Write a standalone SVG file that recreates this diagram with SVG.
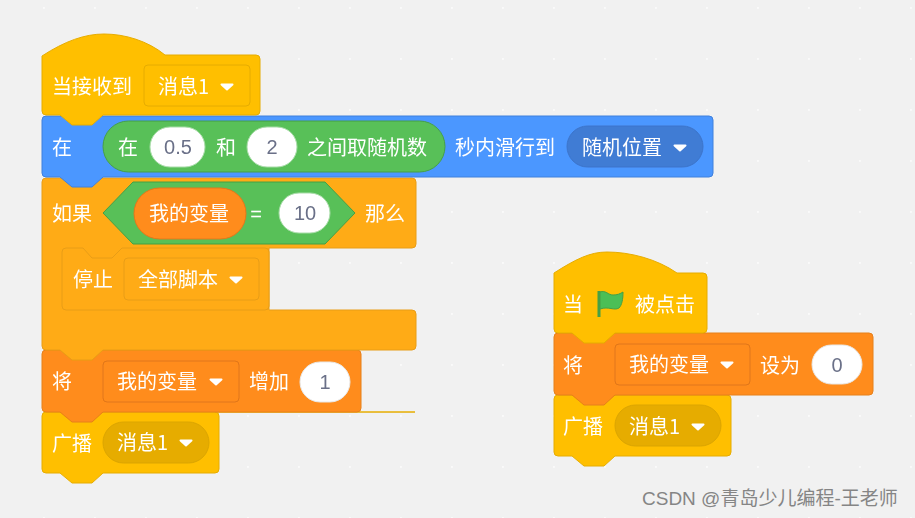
<svg xmlns="http://www.w3.org/2000/svg" width="915" height="518" viewBox="0 0 915 518">
<style>
text{font-family:"Noto Sans CJK SC","Liberation Sans",sans-serif;font-size:20px;fill:#fff}
.n{font-family:"Liberation Sans","Noto Sans CJK SC",sans-serif;fill:#6a7088;text-anchor:middle}
.y{fill:#ffbf00;stroke:#e6ac00}
.b{fill:#4c97ff;stroke:#3f80dc}
.o{fill:#ff8c1a;stroke:#e6801a}
.c{fill:#ffab19;stroke:#e89d17}
.g{fill:#59c059;stroke:#45a045}
.i{fill:#fff;stroke:#e8e8e8}
.dy{fill:#ffbf00;stroke:#e6ac00}
.do{fill:#ff8c1a;stroke:#e0761a}
.dc{fill:#ffab19;stroke:#e89d17}
.py{fill:#e6ac00;stroke:#dba500}
.pb{fill:#3f7bd4;stroke:#3d75cb}
</style>
<defs>
<pattern id="dots" x="43" y="7" width="51" height="51" patternUnits="userSpaceOnUse">
<rect x="0" y="0" width="51" height="51" fill="#f1f1f1"/>
<rect x="-0.1" y="-0.1" width="2" height="2" fill="#fafafa"/>
</pattern>
<path id="arrow" d="M-5.5,-2.5H5.500L0,2.500Z" fill="#fff" stroke="#fff" stroke-width="2" stroke-linejoin="round"/>
<filter id="soft" x="-2%" y="-2%" width="104%" height="104%"><feGaussianBlur stdDeviation="0.45"/></filter>
</defs>
<rect width="915" height="518" fill="url(#dots)"/>
<g filter="url(#soft)">
<g id="stack-left">
<g id="broadcast-left">
<path class="y" d="M46,412H415H215Q219,412 219,416V469Q219,473 215,473H103L92,483H72L60,473H46Q42,473 42,469V416Q42,412 46,412Z"/>
<rect class="py" x="103" y="422" width="106" height="41" rx="20.500"/>
<text x="52" y="451">广播</text><text x="117" y="450">消息1</text>
<use href="#arrow" x="186" y="443"/>
</g>
<g id="change-var">
<path class="o" d="M46,350H357Q361,350 361,354V408Q361,412 357,412H103L92,422H72L60,412H46Q42,412 42,408V354Q42,350 46,350Z"/>
<rect class="do" x="103" y="361" width="136" height="41" rx="4"/>
<text x="52" y="389">将</text><text x="117" y="389">我的变量</text>
<use href="#arrow" x="216" y="382"/>
<text x="249" y="389">增加</text>
<rect class="i" x="300" y="362" width="50" height="40" rx="20"/>
<text class="n" x="325" y="389">1</text>
</g>
<g id="if-block">
<path class="c" d="M46,178H412Q416,178 416,182V244Q416,248 412,248H269V310H412Q416,310 416,314V346Q416,350 412,350H103L92,360H72L60,350H46Q42,350 42,346V182Q42,178 46,178Z"/>
<path class="c" d="M66,248H83L92,258H112L122,248H265Q269,248 269,252V306Q269,310 265,310H66Q62,310 62,306V252Q62,248 66,248Z"/>
<rect class="dc" x="124" y="258" width="135" height="42" rx="4"/>
<text x="52" y="221">如果</text>
<polygon class="g" points="103,213 133,182 325,182 355,213 325,244 133,244"/>
<rect class="o" x="134" y="188" width="112" height="51" rx="25.500" style="stroke:#e6761a"/>
<text x="149" y="221">我的变量</text>
<text class="n" x="256" y="221" style="fill:#fff">=</text>
<rect class="i" x="279" y="193" width="51" height="40" rx="20" style="stroke:#a8dca8"/>
<text class="n" x="305" y="220">10</text>
<text x="365" y="221">那么</text>
<text x="73" y="287">停止</text><text x="138" y="287">全部脚本</text>
<use href="#arrow" x="236" y="280"/>
</g>
<g id="glide-block">
<path class="b" d="M46,116H709Q713,116 713,120V173Q713,177 709,177H103L92,187H72L60,177H46Q42,177 42,173V120Q42,116 46,116Z"/>
<text x="52" y="155">在</text>
<rect class="g" x="103" y="121" width="342" height="51" rx="25.500"/>
<text x="118" y="155">在</text>
<rect class="i" x="150" y="127" width="55" height="40" rx="20" style="stroke:#a8dca8"/>
<text class="n" x="178" y="154">0.5</text>
<text x="216" y="155">和</text>
<rect class="i" x="247" y="127" width="50" height="40" rx="20" style="stroke:#a8dca8"/>
<text class="n" x="272" y="154">2</text>
<text x="307" y="155">之间取随机数</text>
<text x="455" y="155">秒内滑行到</text>
<rect class="pb" x="567" y="126" width="136" height="41" rx="20.500"/>
<text x="582" y="155">随机位置</text>
<use href="#arrow" x="680" y="148"/>
</g>
<g id="hat-receive">
<path class="y" d="M42,56C65,41 85,34 104,34C125,34 148,41 165,55H256Q260,55 260,59V111Q260,115 256,115H103L92,125H72L60,115H46Q42,115 42,111Z"/>
<rect class="dy" x="144" y="65" width="106" height="41" rx="4"/>
<text x="52" y="94">当接收到</text><text x="158" y="94">消息1</text>
<use href="#arrow" x="227" y="87"/>
</g>
</g>
<g id="stack-right">
<g id="broadcast-right">
<path class="y" d="M558,395H727Q731,395 731,399V452Q731,456 727,456H615L604,466H584L572,456H558Q554,456 554,452V399Q554,395 558,395Z"/>
<rect class="py" x="615" y="405" width="106" height="41" rx="20.500"/>
<text x="563" y="434">广播</text><text x="629" y="434">消息1</text>
<use href="#arrow" x="698" y="427"/>
</g>
<g id="set-var">
<path class="o" d="M558,333H869Q873,333 873,337V391Q873,395 869,395H615L604,405H584L572,395H558Q554,395 554,391V337Q554,333 558,333Z"/>
<rect class="do" x="615" y="344" width="135" height="41" rx="4"/>
<text x="563" y="373">将</text><text x="629" y="372">我的变量</text>
<use href="#arrow" x="727" y="365"/>
<text x="760" y="373">设为</text>
<rect class="i" x="812" y="345" width="50" height="39" rx="19.500"/>
<text class="n" x="837" y="372">0</text>
</g>
<g id="hat-flag">
<path class="y" d="M554,273C576,259 590,252 607,252C630,252 657,259 677,273H703Q707,273 707,277V329Q707,333 703,333H615L604,343H584L572,333H558Q554,333 554,329Z"/>
<text x="563" y="312">当</text>
<rect x="597.500" y="291" width="3" height="26" fill="#45a045"/>
<path d="M600,292C606,290 608,295 613,295C617,295 620,294 623,292C623,299 622,305 619,308C614,311 609,306 600,309Z" fill="#4cbf56" stroke="#45a045"/>
<text x="635" y="312">被点击</text>
</g>
</g>
</g>
<text id="watermark" x="642" y="505" style="font-family:'Liberation Sans','Noto Sans CJK SC',sans-serif;font-size:19px;fill:#858585">CSDN @青岛少儿编程-王老师</text>
</svg>
